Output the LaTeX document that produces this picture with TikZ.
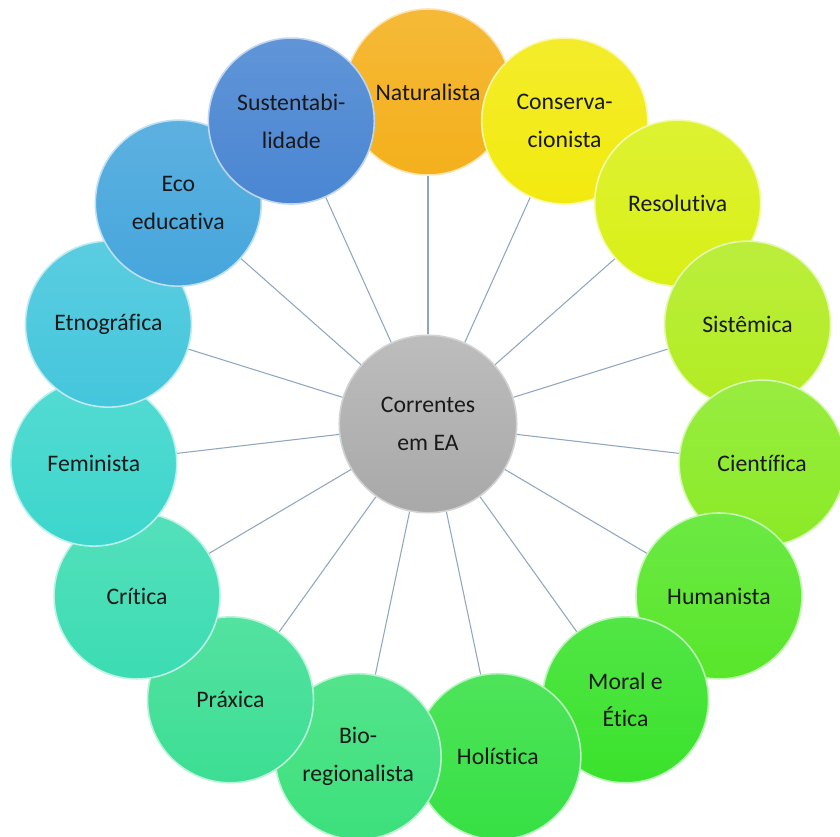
\documentclass[tikz,border=0pt]{standalone}
\usepackage{fontspec}
\setmainfont{Carlito}[Ligatures={NoCommon,NoRare}]
\usetikzlibrary{backgrounds}

\definecolor{natcol}{HTML}{F4B01C}
\definecolor{concol}{HTML}{F2EA0E}
\definecolor{rescol}{HTML}{D9F016}
\definecolor{siscol}{HTML}{B2EC22}
\definecolor{ciecol}{HTML}{8AEA26}
\definecolor{humcol}{HTML}{58E62A}
\definecolor{morcol}{HTML}{3AE22C}
\definecolor{holcol}{HTML}{36E044}
\definecolor{biocol}{HTML}{3CE07C}
\definecolor{pracol}{HTML}{3CDE94}
\definecolor{cricol}{HTML}{3CDCB2}
\definecolor{femcol}{HTML}{3CD6CC}
\definecolor{etncol}{HTML}{44C6DC}
\definecolor{ecocol}{HTML}{46A6DC}
\definecolor{suscol}{HTML}{4A86D2}
\definecolor{ligcol}{HTML}{8FA6BE}

\tikzset{
	corrente/.style={circle, minimum size=3.32cm, inner sep=0pt, align=center,
		text=black!90, font=\fontsize{13.5}{21.5}\selectfont,
		draw=white!65!#1, line width=0.9pt, top color=white!12!#1, bottom color=#1},
	centro/.style={circle, minimum size=3.55cm, inner sep=0pt, align=center,
		text=black!90, font=\fontsize{13.5}{22}\selectfont,
		draw=gray!35, line width=0.9pt, top color=gray!52, bottom color=gray!68},
	ligacao/.style={draw=ligcol, line width=0.6pt}
}

\begin{document}
\begin{tikzpicture}[x=0.02cm, y=0.02cm]
	\useasboundingbox (-428,-409) rectangle (412,428);
	\node[centro] (ea) at (0,4) {Correntes\\em EA};
	% correntes, no sentido horario a partir do topo
	\foreach \nome/\texto/\cor [count=\i from 0, evaluate=\i as \ang using 90-24*\i] in {
		nat/{Naturalista}/natcol,
		con/{Conserva-\\cionista}/concol,
		res/{Resolutiva}/rescol,
		sis/{Sistêmica}/siscol,
		cie/{Científica}/ciecol,
		hum/{Humanista}/humcol,
		mor/{Moral e\\Ética}/morcol,
		hol/{Holística}/holcol,
		bio/{Bio-\\regionalista}/biocol,
		pra/{Práxica}/pracol,
		cri/{Crítica}/cricol,
		fem/{Feminista}/femcol,
		etn/{Etnográfica}/etncol,
		eco/{Eco\\educativa}/ecocol,
		sus/{Sustentabi-\\lidade}/suscol}
	{
		\node[corrente=\cor] (\nome) at (\ang:336) {\texto};
		\begin{scope}[on background layer]
			\draw[ligacao] (ea) -- (\nome);
		\end{scope}
	}
\end{tikzpicture}
\end{document}
